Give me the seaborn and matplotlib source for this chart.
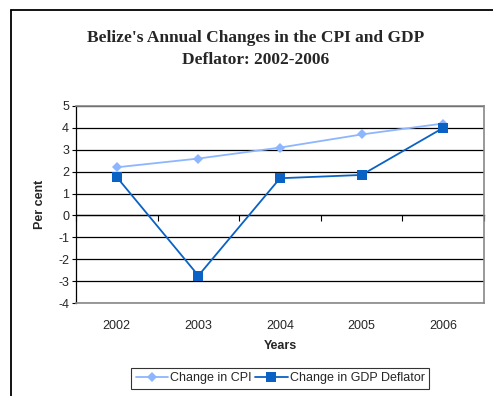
import matplotlib
matplotlib.use("Agg")
import matplotlib.pyplot as plt
from matplotlib.lines import Line2D
import seaborn as sns
import pandas as pd

years = ["2002", "2003", "2004", "2005", "2006"]
cpi_change = [2.2, 2.6, 3.1, 3.7, 4.2]
gdp_deflator_change = [1.75, -2.75, 1.7, 1.85, 4.0]
series_names = ["Change in CPI", "Change in GDP Deflator"]
y_ticks = [-4, -3, -2, -1, 0, 1, 2, 3, 4, 5]

sns.set_theme(style="white")
plt.rcParams["font.family"] = ["Liberation Sans", "DejaVu Sans"]
plt.rcParams["figure.edgecolor"] = "white"
plt.rcParams["savefig.edgecolor"] = "white"

df = pd.DataFrame({
    "Year": years * 2,
    "Value": cpi_change + gdp_deflator_change,
    "Series": [series_names[0]] * len(years) + [series_names[1]] * len(years),
})

fig = plt.figure(figsize=(4.93, 3.96), dpi=100, frameon=True, linewidth=0)
fig.patch.set_facecolor("white")
fig.patch.set_edgecolor("white")
fig.patch.set_linewidth(0)

# outer chart frame: left and top edges
fx, fy = 11 / 493, 1 - 10 / 396
fig.add_artist(Line2D([fx, fx], [-0.02, fy], transform=fig.transFigure,
                      color="black", linewidth=1.3))
fig.add_artist(Line2D([fx, 1.02], [fy, fy], transform=fig.transFigure,
                      color="black", linewidth=1.3))

ax = fig.add_axes([76 / 493, 1 - 303 / 396, (484 - 76) / 493, (303 - 106) / 396])

palette = {series_names[0]: "#8DB6FF", series_names[1]: "#0A62C4"}
markers = {series_names[0]: "D", series_names[1]: "s"}
sizes = [5.5, 7.5]
sns.lineplot(data=df, x="Year", y="Value", hue="Series", style="Series",
             palette=palette, markers=markers, dashes=False, ax=ax,
             linewidth=1.3, markeredgewidth=0, legend=False)
for line, ms in zip(ax.lines, sizes):
    line.set_markersize(ms)

ax.set_xlim(-0.5, len(years) - 0.5)
ymin, ymax = y_ticks[0], y_ticks[-1]
ax.set_ylim(ymin, ymax)
ax.set_yticks(y_ticks)
ax.set_yticklabels([str(t) for t in y_ticks], fontsize=9)
ax.yaxis.grid(True, color="black", linewidth=0.9)
ax.set_axisbelow(True)
ax.tick_params(axis="y", direction="out", length=3, width=0.8, color="black",
               pad=2, left=True)

# category labels sit under the plot area
ax.set_xticks(range(len(years)))
ax.set_xticklabels(years, fontsize=9)
ax.tick_params(axis="x", length=0, pad=12)

for side in ["top", "right", "bottom"]:
    ax.spines[side].set_color("#888888")
    ax.spines[side].set_linewidth(1.2)
ax.spines["left"].set_color("black")
ax.spines["left"].set_linewidth(0.9)

# category axis crossing at zero, with boundary tick marks
zero_frac = (0 - ymin) / (ymax - ymin)
sec = ax.secondary_xaxis(zero_frac)
sec.set_xticks([i - 0.5 for i in range(len(years) + 1)])
sec.set_xticklabels([])
sec.tick_params(axis="x", direction="out", length=4, width=0.8, color="black")
for side in ["left", "right", "top"]:
    sec.spines[side].set_visible(False)
sec.spines["bottom"].set_color("black")
sec.spines["bottom"].set_linewidth(0.9)

ax.set_xlabel("Years", fontsize=9, fontweight="bold", labelpad=6)
ax.set_ylabel("Per cent", fontsize=9, fontweight="bold", labelpad=9)

title_font = ["Liberation Serif", "DejaVu Serif"]
fig.text(256 / 493, 1 - 38 / 396, "Belize's Annual Changes in the CPI and GDP",
         ha="center", va="center", fontsize=12.5, fontweight="bold",
         family=title_font)
fig.text(256 / 493, 1 - 60 / 396, "Deflator: 2002-2006",
         ha="center", va="center", fontsize=12.5, fontweight="bold",
         family=title_font)

handles = [
    Line2D([], [], color=palette[n], marker=markers[n], markersize=ms,
           markeredgewidth=0, linewidth=1.3)
    for n, ms in zip(series_names, sizes)
]
leg = fig.legend(handles, series_names, loc="center", ncol=2,
                 bbox_to_anchor=(280 / 493, 1 - 378.5 / 396), fontsize=9,
                 frameon=True, fancybox=False, handlelength=2.6,
                 handletextpad=0.15, columnspacing=0.3, borderpad=0.35,
                 borderaxespad=0)
leg.get_frame().set_edgecolor("black")
leg.get_frame().set_linewidth(0.8)

fig.savefig("out.png", dpi=100, facecolor="white", edgecolor="white")
